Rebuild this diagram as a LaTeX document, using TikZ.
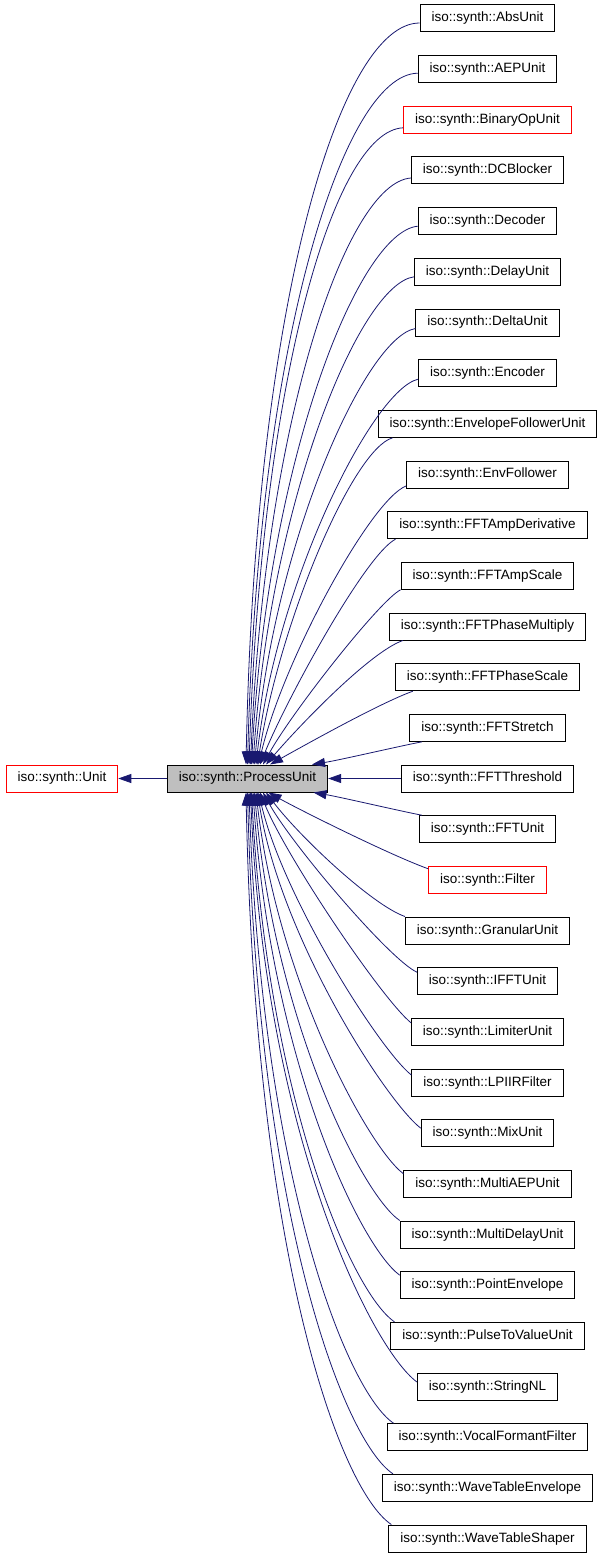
\documentclass[tikz,border=0pt]{standalone}
\usepackage{fontspec}
\setmainfont{Liberation Sans}
\usetikzlibrary{arrows.meta}
\definecolor{midblue}{HTML}{191970}
\definecolor{grey75}{HTML}{BFBFBF}

\begin{document}
\begin{tikzpicture}[x=1pt,y=1pt,
	cls/.style={draw=black, line width=1pt, minimum height=27pt, inner xsep=11.5pt, inner ysep=0pt, font=\fontsize{13.5}{16}\selectfont},
	clsred/.style={cls, draw=red},
	inh/.style={draw=midblue, line width=0.8pt, -{Triangle[length=13pt,width=9pt]}}]

	\useasboundingbox (0,0) rectangle (603,-1557);

	% base classes
	\node[clsred] (unit) at (62,-778.5) {iso::synth::Unit};
	\node[cls, fill=grey75] (pu) at (247.5,-778.5) {iso::synth::ProcessUnit};
	\draw[inh] (pu) -- (unit);

	% derived classes
	\node[cls] (abs) at (487.5,-18.5) {iso::synth::AbsUnit};
	\node[cls] (aep) at (487.5,-69.2) {iso::synth::AEPUnit};
	\node[clsred] (binop) at (487.5,-119.8) {iso::synth::BinaryOpUnit};
	\node[cls] (dcblock) at (487.5,-170.5) {iso::synth::DCBlocker};
	\node[cls] (decoder) at (487.5,-221.2) {iso::synth::Decoder};
	\node[cls] (delay) at (487.5,-271.8) {iso::synth::DelayUnit};
	\node[cls] (delta) at (487.5,-322.5) {iso::synth::DeltaUnit};
	\node[cls] (encoder) at (487.5,-373.2) {iso::synth::Encoder};
	\node[cls] (envfu) at (487.5,-423.8) {iso::synth::EnvelopeFollowerUnit};
	\node[cls] (envf) at (487.5,-474.5) {iso::synth::EnvFollower};
	\node[cls] (ampderiv) at (487.5,-525.2) {iso::synth::FFTAmpDerivative};
	\node[cls] (ampscale) at (487.5,-575.8) {iso::synth::FFTAmpScale};
	\node[cls] (phasemul) at (487.5,-626.5) {iso::synth::FFTPhaseMultiply};
	\node[cls] (phasescale) at (487.5,-677.2) {iso::synth::FFTPhaseScale};
	\node[cls] (stretch) at (487.5,-727.8) {iso::synth::FFTStretch};
	\node[cls] (threshold) at (487.5,-778.5) {iso::synth::FFTThreshold};
	\node[cls] (fftunit) at (487.5,-829.2) {iso::synth::FFTUnit};
	\node[clsred] (filter) at (487.5,-879.8) {iso::synth::Filter};
	\node[cls] (granular) at (487.5,-930.5) {iso::synth::GranularUnit};
	\node[cls] (ifft) at (487.5,-981.2) {iso::synth::IFFTUnit};
	\node[cls] (limiter) at (487.5,-1031.8) {iso::synth::LimiterUnit};
	\node[cls] (lpiir) at (487.5,-1082.5) {iso::synth::LPIIRFilter};
	\node[cls] (mix) at (487.5,-1133.2) {iso::synth::MixUnit};
	\node[cls] (multiaep) at (487.5,-1183.8) {iso::synth::MultiAEPUnit};
	\node[cls] (multidelay) at (487.5,-1234.5) {iso::synth::MultiDelayUnit};
	\node[cls] (pointenv) at (487.5,-1285.2) {iso::synth::PointEnvelope};
	\node[cls] (pulse) at (487.5,-1335.8) {iso::synth::PulseToValueUnit};
	\node[cls] (stringnl) at (487.5,-1386.5) {iso::synth::StringNL};
	\node[cls] (vocal) at (487.5,-1437.2) {iso::synth::VocalFormantFilter};
	\node[cls] (wtenv) at (487.5,-1487.8) {iso::synth::WaveTableEnvelope};
	\node[cls] (wtshaper) at (487.5,-1538.5) {iso::synth::WaveTableShaper};

	% edges into the top of ProcessUnit
	\draw[inh] ([yshift=-4.5pt]abs.west) .. controls (340.6,-23) and (255.3,-300) .. ([xshift=-1.5pt]pu.north);
	\draw[inh] ([yshift=-4pt]aep.west) .. controls (343.6,-74.5) and (258.4,-340) .. (pu.north);
	\draw[inh] ([yshift=-8pt]binop.west) .. controls (333.9,-131) and (261.5,-380) .. ([xshift=1.5pt]pu.north);
	\draw[inh] ([yshift=-7.5pt]dcblock.west) .. controls (346.7,-182.5) and (264.6,-420) .. ([xshift=3pt]pu.north);
	\draw[inh] ([yshift=-5pt]decoder.west) .. controls (358.3,-232) and (267.7,-460) .. ([xshift=4pt]pu.north);
	\draw[inh] ([yshift=-5pt]delay.west) .. controls (359.5,-284.5) and (270.8,-500) .. ([xshift=5.5pt]pu.north);
	\draw[inh] ([yshift=-6pt]delta.west) .. controls (365.9,-337) and (273.9,-540) .. ([xshift=7pt]pu.north);
	\draw[inh] ([yshift=-6pt]encoder.west) .. controls (373.2,-389.5) and (277,-580) .. ([xshift=8.5pt]pu.north);
	\draw[inh] ([xshift=15pt]envfu.south west) .. controls (353.1,-449) and (280.2,-620) .. ([xshift=10pt]pu.north);
	\draw[inh] ([yshift=-11.5pt]envf.west) .. controls (371,-499.5) and (283.2,-660) .. ([xshift=11pt]pu.north);
	\draw[inh] ([xshift=8pt]ampderiv.south west) .. controls (365,-555) and (286.3,-700) .. ([xshift=12.5pt]pu.north);
	\draw[inh] (ampscale.south west) .. controls (380,-600) and (292,-712) .. ([xshift=15.5pt]pu.north);
	\draw[inh] ([xshift=14pt]phasemul.south west) .. controls (370,-652) and (300,-725) .. ([xshift=18.5pt]pu.north);
	\draw[inh] ([xshift=18pt]phasescale.south west) .. controls (380,-703) and (305,-745) .. ([xshift=22.5pt]pu.north);
	\draw[inh] ([xshift=12.5pt]stretch.south west) .. controls (400,-746) and (340,-760) .. ([xshift=64.5pt]pu.north);

	\draw[inh] (threshold) -- (pu);

	% edges into the bottom of ProcessUnit
	\draw[inh] ([xshift=3pt]fftunit.north west) .. controls (400,-811) and (340,-797) .. ([xshift=66pt]pu.south);
	\draw[inh] ([yshift=11pt]filter.west) .. controls (390,-855) and (300,-810) .. ([xshift=21pt]pu.south);
	\draw[inh] (granular.north west) .. controls (372,-905) and (300,-837) .. ([xshift=18.5pt]pu.south);
	\draw[inh] ([yshift=9pt]ifft.west) .. controls (390,-960) and (292,-845) .. ([xshift=15.5pt]pu.south);
	\draw[inh] ([yshift=9pt]limiter.west) .. controls (380.9,-997.9) and (286.3,-857) .. ([xshift=12.5pt]pu.south);
	\draw[inh] ([yshift=7.5pt]lpiir.west) .. controls (378.8,-1048.9) and (283.2,-897) .. ([xshift=11pt]pu.south);
	\draw[inh] ([yshift=5pt]mix.west) .. controls (385.8,-1100.9) and (280.2,-937) .. ([xshift=10pt]pu.south);
	\draw[inh] ([yshift=10pt]multiaep.west) .. controls (366.8,-1145.9) and (277,-977) .. ([xshift=8.5pt]pu.south);
	\draw[inh] (multidelay.north west) .. controls (360.8,-1193.9) and (273.9,-1017) .. ([xshift=7pt]pu.south);
	\draw[inh] ([yshift=10pt]pointenv.west) .. controls (358.7,-1244.9) and (270.8,-1057) .. ([xshift=5.5pt]pu.south);
	\draw[inh] ([xshift=4pt]pulse.north west) .. controls (350.7,-1291.9) and (267.7,-1097) .. ([xshift=4pt]pu.south);
	\draw[inh] ([yshift=4.5pt]stringnl.west) .. controls (372.7,-1349.8) and (264.6,-1137) .. ([xshift=3pt]pu.south);
	\draw[inh] ([xshift=7pt]vocal.north west) .. controls (346.7,-1391.8) and (261.5,-1177) .. ([xshift=1.5pt]pu.south);
	\draw[inh] ([xshift=11pt]wtenv.north west) .. controls (343.6,-1440.8) and (258.4,-1217) .. (pu.south);
	\draw[inh] ([xshift=3pt]wtshaper.north west) .. controls (339.6,-1489.8) and (255.3,-1257) .. ([xshift=-1.5pt]pu.south);

\end{tikzpicture}
\end{document}
